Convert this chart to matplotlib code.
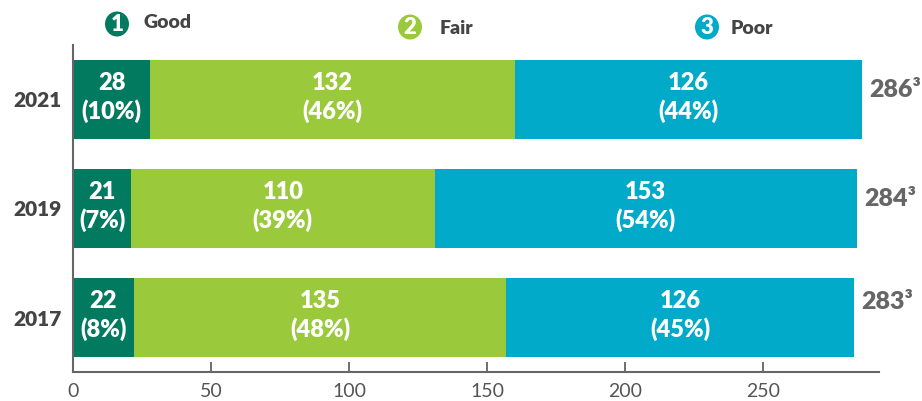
import matplotlib
matplotlib.use("Agg")
import matplotlib.pyplot as plt
from matplotlib.patches import Ellipse

plt.rcParams['font.family'] = ['Lato', 'DejaVu Sans']

years = ['2017', '2019', '2021']
good = [22, 21, 28]
fair = [135, 110, 132]
poor = [126, 153, 126]
categories = ['Good', 'Fair', 'Poor']
colors = ['#027a5f', '#9aca3c', '#00aac8']
xticks = [0, 50, 100, 150, 200, 250]

fig = plt.figure(figsize=(9.22, 4.01), dpi=100)
ax = fig.add_axes([0.0792, 0.0723, 0.9534 - 0.0792, 0.8878 - 0.0723])

ypos = list(range(len(years)))
series = [good, fair, poor]
totals = [g + f + p for g, f, p in zip(good, fair, poor)]
left = [0] * len(years)
for vals, col in zip(series, colors):
    ax.barh(ypos, vals, left=left, height=0.725, color=col, zorder=2)
    for i, v in enumerate(vals):
        pct = round(v / totals[i] * 100 + 1e-9)
        ax.text(left[i] + v / 2, ypos[i] + 0.02, f"{v}\n({pct}%)", ha='center', va='center',
                color='white', fontsize=17, fontweight='heavy', linespacing=1.3, zorder=3)
    left = [l + v for l, v in zip(left, vals)]

for i, t in enumerate(totals):
    ax.annotate(f"{t}³", xy=(t, ypos[i]), xytext=(5, 7 if i > 0 else 11),
                textcoords='offset points', ha='left', va='center',
                color='#666666', fontsize=18, fontweight='heavy', annotation_clip=False)

ax.set_xlim(0, 292)
ax.set_ylim(-0.5, 2.5)
ax.set_yticks(ypos)
ax.set_yticklabels(years, fontsize=15, fontweight='heavy', color='#444444')
ax.set_xticks(xticks)
ax.set_xticklabels([str(x) for x in xticks], fontsize=14, color='#555555')
ax.tick_params(axis='x', direction='in', length=7, width=1.2, color='#555555', pad=8)
ax.tick_params(axis='y', length=0, pad=8)
for s in ['top', 'right']:
    ax.spines[s].set_visible(False)
for s in ['left', 'bottom']:
    ax.spines[s].set_color('#666666')
    ax.spines[s].set_linewidth(1.5)

# legend
W, H = 922, 401
legend_pos = [(117, 24, 143, 23), (410, 27, 440, 28), (707, 27, 731, 28)]
for k, (cat, col, (cx, cy, tx, ty)) in enumerate(zip(categories, colors, legend_pos)):
    e = Ellipse((cx / W, 1 - cy / H), 24 / W, 25 / H, transform=fig.transFigure,
                facecolor=col, edgecolor='none')
    fig.add_artist(e)
    fig.text(cx / W, 1 - cy / H - 0.002, str(k + 1), ha='center', va='center', color='white',
             fontsize=16, fontweight='heavy')
    fig.text(tx / W, 1 - ty / H, cat, ha='left', va='center', color='#444444',
             fontsize=14, fontweight='heavy')

fig.savefig('out.png', dpi=100)
